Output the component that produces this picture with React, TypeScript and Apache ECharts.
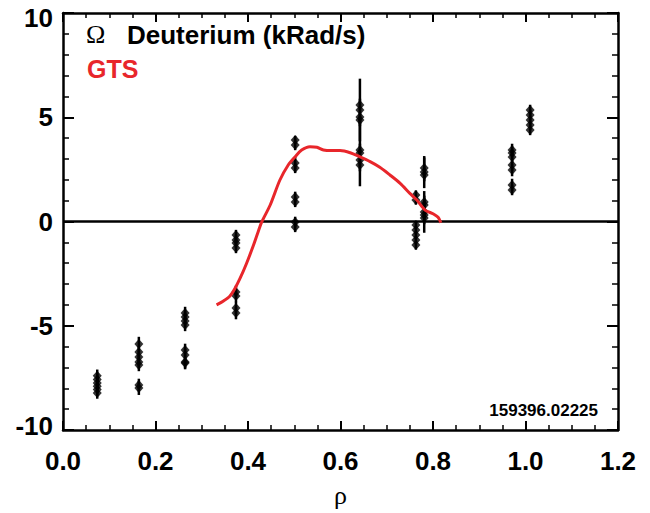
import React, { useEffect, useRef } from "react";
import * as echarts from "echarts";

// Measured points: rho (normalized radius), Omega (kRad/s), error
const pointRho = [
  0.074, 0.074, 0.074, 0.074, 0.074, 0.074,
  0.164, 0.164, 0.164, 0.164, 0.164, 0.164, 0.164,
  0.264, 0.264, 0.264, 0.264, 0.264, 0.264, 0.264, 0.264,
  0.374, 0.374, 0.374, 0.374, 0.374, 0.374, 0.374, 0.374,
  0.502, 0.502, 0.502, 0.502, 0.502, 0.502, 0.502, 0.502,
  0.642, 0.642, 0.642, 0.642, 0.642, 0.642, 0.642, 0.642,
  0.763, 0.763, 0.763, 0.763, 0.763, 0.763, 0.763,
  0.781, 0.781, 0.781, 0.781, 0.781, 0.781, 0.781, 0.781,
  0.971, 0.971, 0.971, 0.971, 0.971, 0.971, 0.971,
  1.01, 1.01, 1.01, 1.01, 1.01,
];
const pointOmega = [
  -7.4, -7.58, -7.74, -7.9, -8.06, -8.22,
  -5.88, -6.26, -6.5, -6.74, -6.88, -7.84, -7.99,
  -4.39, -4.58, -4.77, -4.96, -6.16, -6.4, -6.74, -6.79,
  -0.65, -0.89, -1.03, -1.27, -3.38, -3.57, -4.15, -4.39,
  3.91, 3.67, 2.81, 2.57, 1.18, 0.94, -0.02, -0.26,
  5.59, 5.35, 5.01, 4.87, 3.43, 3.29, 2.95, 2.71,
  1.27, 1.03, -0.17, -0.41, -0.65, -0.89, -1.13,
  2.57, 2.37, 2.23, 0.94, 0.79, 0.46, 0.31, 0.17,
  3.43, 3.29, 3.09, 2.71, 2.47, 1.75, 1.51,
  5.35, 5.11, 4.87, 4.63, 4.39,
];
const pointErr = [
  0.3, 0.3, 0.3, 0.3, 0.3, 0.28,
  0.35, 0.3, 0.3, 0.3, 0.3, 0.3, 0.33,
  0.3, 0.3, 0.3, 0.3, 0.3, 0.3, 0.3, 0.3,
  0.25, 0.25, 0.25, 0.25, 0.3, 0.3, 0.3, 0.3,
  0.2, 0.25, 0.3, 0.25, 0.25, 0.25, 0.25, 0.25,
  0.3, 1.5, 0.3, 0.3, 0.3, 1.6, 0.3, 0.3,
  0.22, 0.22, 0.2, 0.2, 0.2, 0.2, 0.22,
  0.5, 0.77, 0.3, 0.3, 0.3, 1.0, 0.3, 0.3,
  0.3, 0.3, 0.3, 0.3, 0.3, 0.3, 0.25,
  0.25, 0.25, 0.25, 0.25, 0.25,
];

// GTS model curve
const gtsRho = [
  0.332, 0.347, 0.361, 0.372, 0.383, 0.397, 0.412, 0.422, 0.43, 0.448, 0.469,
  0.487, 0.502, 0.516, 0.534, 0.549, 0.563, 0.581, 0.599, 0.621, 0.641, 0.664,
  0.685, 0.707, 0.729, 0.75, 0.765, 0.783, 0.801, 0.811, 0.817,
];
const gtsOmega = [
  -4.0, -3.81, -3.57, -3.2, -2.72, -2.0, -1.13, -0.49, -0.01, 0.79, 1.99,
  2.71, 3.11, 3.43, 3.59, 3.56, 3.43, 3.4, 3.4, 3.3, 3.11, 2.87,
  2.6, 2.23, 1.83, 1.35, 1.03, 0.55, 0.36, 0.2, -0.06,
];

const xTickLabels = ["0.0", "0.2", "0.4", "0.6", "0.8", "1.0", "1.2"];
const yTickLabels = ["-10", "-5", "0", "5", "10"];
const shotLabel = "159396.02225";

const SANS = "'Liberation Sans', Arial, Helvetica, sans-serif";
const SERIF = "'Liberation Serif', 'Times New Roman', serif";

export default function App() {
  const ref = useRef<HTMLDivElement>(null);
  useEffect(() => {
    if (!ref.current) return;
    const chart = echarts.init(ref.current, undefined, { renderer: "svg" });
    const axisLine = { show: true, onZero: false, lineStyle: { color: "#000", width: 2.5 } };
    const xCommon = {
      type: "value" as const,
      min: 0,
      max: 1.2,
      interval: 0.2,
      axisLine,
      axisTick: { show: true, inside: true, length: 9, lineStyle: { color: "#000", width: 2 } },
      minorTick: { show: true, splitNumber: 4, length: 5, lineStyle: { color: "#000", width: 1.5 } },
      splitLine: { show: false },
      minorSplitLine: { show: false },
    };
    const yCommon = {
      type: "value" as const,
      min: -10,
      max: 10,
      interval: 5,
      axisLine,
      axisTick: { show: true, inside: true, length: 11, lineStyle: { color: "#000", width: 2 } },
      minorTick: { show: true, splitNumber: 5, length: 6, lineStyle: { color: "#000", width: 1.5 } },
      splitLine: { show: false },
      minorSplitLine: { show: false },
    };
    const labelFont = { color: "#000", fontSize: 26, fontWeight: "bold" as const, fontFamily: SANS };
    const points = pointRho.map((r, i) => [r, pointOmega[i]]);
    const bars = pointRho.map((r, i) => [r, pointOmega[i] - pointErr[i], pointOmega[i] + pointErr[i]]);
    const gts = gtsRho.map((r, i) => [r, gtsOmega[i]]);

    chart.setOption({
      animation: false,
      backgroundColor: "#fff",
      grid: { left: 63, top: 13, width: 555, height: 417, containLabel: false, outerBoundsMode: "none" },
      xAxis: [
        {
          ...xCommon,
          position: "bottom",
          axisLabel: {
            show: true,
            margin: 18,
            ...labelFont,
            formatter: (v: number) => xTickLabels[Math.round(v / 0.2)] ?? "",
          },
          name: "ρ",
          nameLocation: "middle",
          nameGap: 52,
          nameTextStyle: { color: "#000", fontSize: 26, fontFamily: SERIF },
        },
        { ...xCommon, position: "top", axisLabel: { show: false } },
      ],
      yAxis: [
        {
          ...yCommon,
          position: "left",
          axisLabel: {
            show: true,
            margin: 10,
            ...labelFont,
            lineHeight: 22,
            formatter: (v: number) => {
              const idx = Math.round((v + 10) / 5);
              const t = yTickLabels[idx] ?? "";
              if (idx === yTickLabels.length - 1) return "{top|" + t + "}";
              if (idx === 0) return "{bot|" + t + "}";
              return t;
            },
            rich: {
              top: { ...labelFont, lineHeight: 22, padding: [9, 0, 0, 0] },
              bot: { ...labelFont, lineHeight: 22, padding: [0, 0, 9, 0] },
            },
          },
        },
        { ...yCommon, position: "right", axisLabel: { show: false } },
      ],
      series: [
        {
          type: "line",
          data: [],
          markLine: {
            silent: true,
            symbol: "none",
            label: { show: false },
            lineStyle: { color: "#000", width: 2.5, type: "solid" },
            data: [{ yAxis: 0 }],
          },
        },
        {
          type: "custom",
          data: bars,
          encode: { x: 0, y: [1, 2] },
          renderItem: (_p: any, api: any) => {
            const x = api.value(0);
            const a = api.coord([x, api.value(1)]);
            const b = api.coord([x, api.value(2)]);
            return {
              type: "line",
              shape: { x1: a[0], y1: a[1], x2: b[0], y2: b[1] },
              style: { stroke: "#000", lineWidth: 2.5 },
            };
          },
          z: 3,
        },
        {
          type: "scatter",
          data: points,
          symbol: "diamond",
          symbolSize: [9, 10],
          itemStyle: { color: "#000" },
          z: 4,
        },
        {
          type: "line",
          data: gts,
          smooth: 0.3,
          symbol: "none",
          lineStyle: { color: "#e8262b", width: 3 },
          z: 5,
        },
      ],
      graphic: [
        {
          type: "text",
          left: 86,
          top: 21,
          style: { text: "Ω", fontSize: 26, fontFamily: SERIF, fill: "#000" },
        },
        {
          type: "text",
          x: 127,
          y: 35,
          style: {
            text: "Deuterium (kRad/s)",
            fontSize: 26,
            fontWeight: "bold",
            fontFamily: SANS,
            fill: "#000",
            verticalAlign: "middle",
          },
        },
        {
          type: "text",
          x: 87,
          y: 69,
          style: {
            text: "GTS",
            fontSize: 25,
            fontWeight: "bold",
            fontFamily: SANS,
            fill: "#e8262b",
            verticalAlign: "middle",
          },
        },
        {
          type: "text",
          x: 598,
          y: 410,
          style: {
            text: shotLabel,
            fontSize: 17,
            fontWeight: "bold",
            fontFamily: SANS,
            fill: "#000",
            align: "right",
            verticalAlign: "middle",
          },
        },
      ],
    });
    return () => chart.dispose();
  }, []);
  return (
    <div
      ref={ref}
      style={{ position: "fixed", left: 0, top: 0, width: 650, height: 513, background: "#fff" }}
    />
  );
}
